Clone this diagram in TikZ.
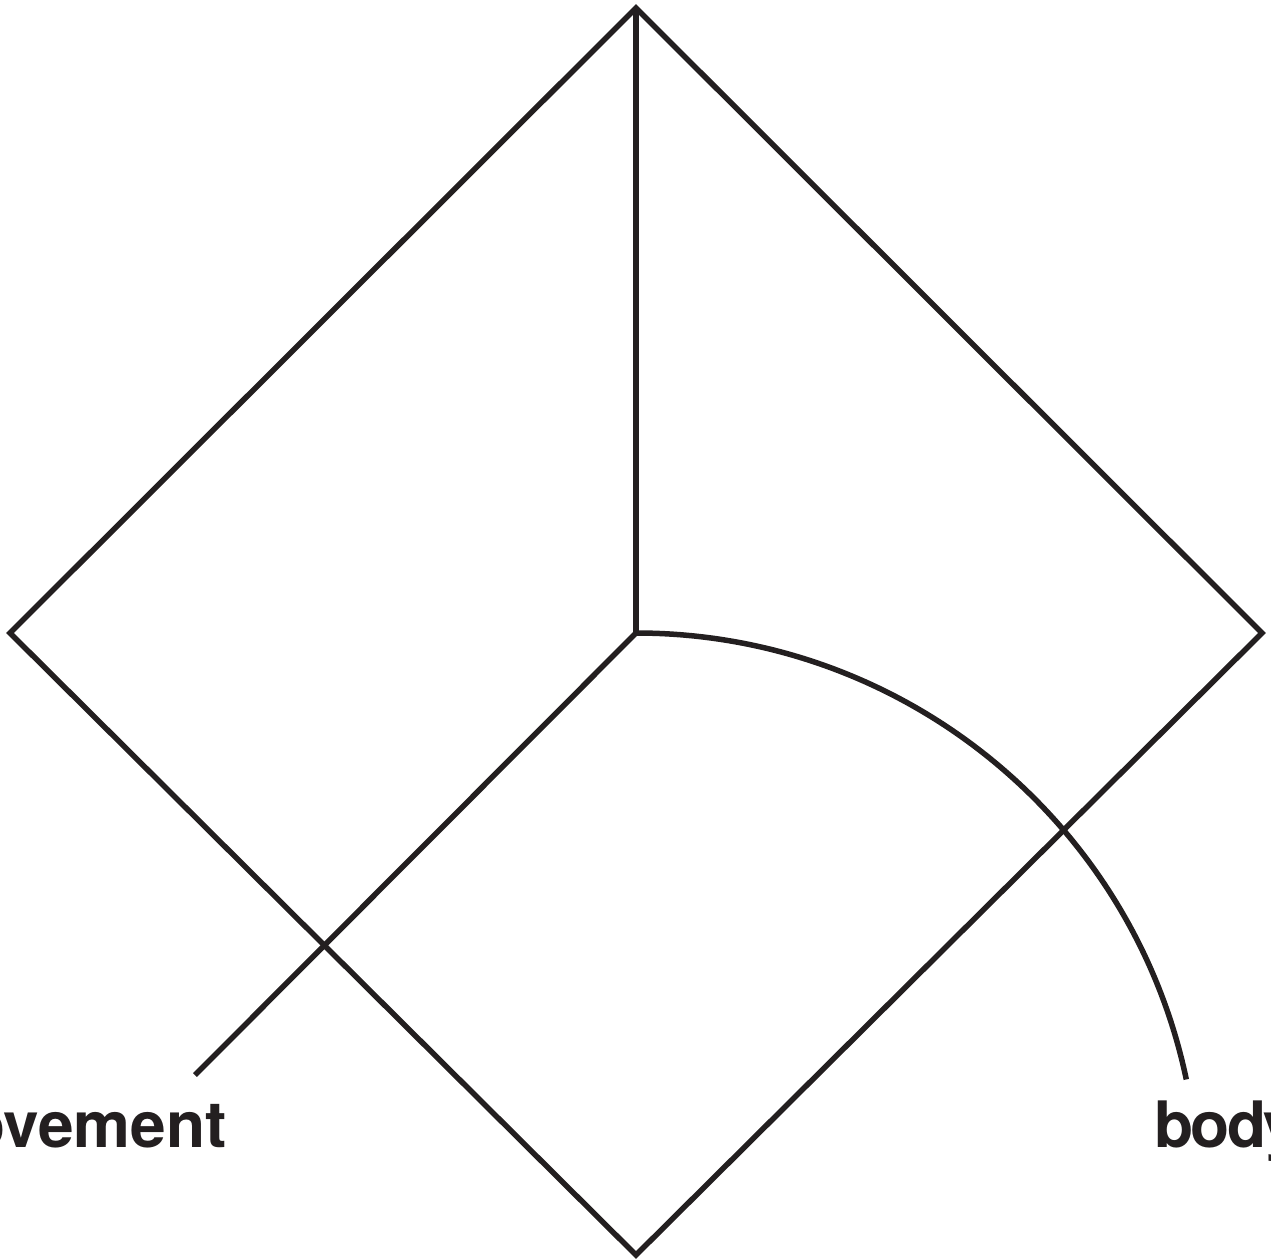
\documentclass[tikz,border=0pt]{standalone}
\usepackage{fontspec}
\setmainfont{TeX Gyre Heros}
\definecolor{ink}{HTML}{231F20}
\begin{document}
\begin{tikzpicture}[x=1pt,y=-1pt,
  stroke/.style={draw=ink,line width=5.5pt,line join=miter},
  lbl/.style={text=ink,font=\fontsize{64}{70}\selectfont\bfseries,inner sep=0pt}]
\useasboundingbox (0,0) rectangle (1271,1258);
\clip (0,0) rectangle (1271,1258);
\coordinate (T) at (636,8);
\coordinate (L) at (10,633);
\coordinate (R) at (1262,633);
\coordinate (B) at (636,1255);
\coordinate (C) at (636,633);
\coordinate (E) at (195,1075);
\draw[stroke] (T) -- (R) -- (B) -- (L) -- cycle;
\draw[stroke] (T) -- (C);
\draw[stroke] (C) -- (E);
\draw[stroke] (C) arc[start angle=-90,end angle=-11.9,radius=562.4];
\node[lbl,anchor=base east] (mv) at (227,1147) {movement};
\node[lbl,anchor=base west] (bd) at (1154,1147) {\addfontfeature{LetterSpace=-4}body};
\end{tikzpicture}
\end{document}
